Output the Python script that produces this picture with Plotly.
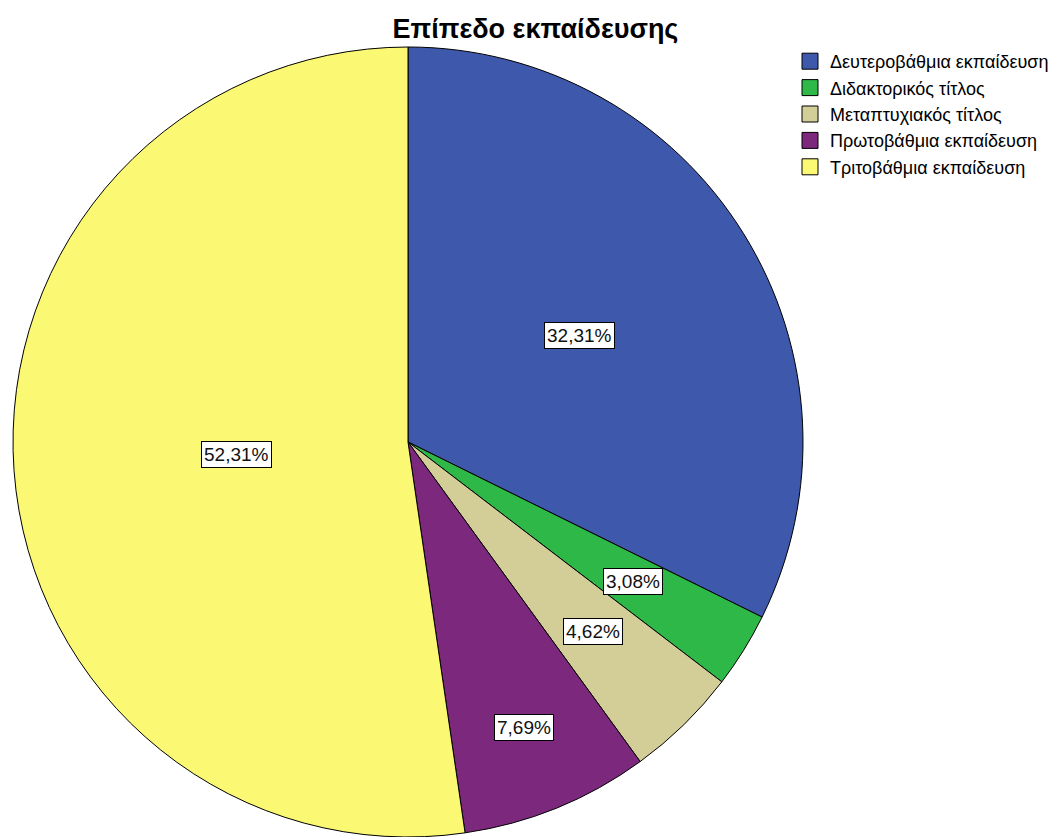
# PIE CHART - LEVEL OF EDUCATION
import numpy as np
import plotly.graph_objects as go

# DATA
categories = ['Δευτεροβάθμια εκπαίδευση', 'Διδακτορικός τίτλος', 'Μεταπτυχιακός τίτλος',
              'Πρωτοβάθμια εκπαίδευση', 'Τριτοβάθμια εκπαίδευση']
counts = [21, 2, 3, 5, 34]
colors = ['#3E58AC', '#2EB848', '#D3CE97', '#7C287D', '#FBF873']
label_radius = [0.51, 0.67, 0.67, 0.78, 0.435]   # where SPSS drops the % boxes, fraction of radius

# page has an 8px body margin, so the figure is a bit smaller than the window
W, H = 1055, 829
cx, cy, R = 400, 434, 395
FONT = 'Liberation Sans, Arial, sans-serif'

fig = go.Figure()
fig.add_trace(go.Pie(
    labels=categories,
    values=counts,
    sort=False,
    direction='clockwise',
    rotation=0,
    marker=dict(colors=colors, line=dict(color='black', width=1)),
    textinfo='none',
    hoverinfo='label+percent',
    showlegend=False,
    domain=dict(x=[(cx - R) / W, (cx + R) / W], y=[0, 2 * R / H]),
))

# legend entries with bigger square swatches
for name, col in zip(categories, colors):
    fig.add_trace(go.Scatter(
        x=[None], y=[None], mode='markers', name=name,
        marker=dict(symbol='square', size=16, color=col, line=dict(color='black', width=1)),
    ))

# percentage labels in white boxes
total = sum(counts)
start = 0.0
for v, rf in zip(counts, label_radius):
    pct = v / total * 100
    mid = (start + v / 2) / total * 2 * np.pi
    start += v
    lx = cx + rf * R * np.sin(mid)
    ly = cy - rf * R * np.cos(mid)
    fig.add_annotation(
        x=lx / W, y=1 - ly / H, xref='paper', yref='paper',
        xanchor='center', yanchor='middle',
        text=f'{pct:.2f}%'.replace('.', ','), showarrow=False,
        font=dict(family=FONT, size=19, color='#111'),
        bgcolor='white', bordercolor='black', borderwidth=1, borderpad=2,
    )

fig.update_xaxes(visible=False)
fig.update_yaxes(visible=False)
fig.update_layout(
    width=W, height=H,
    margin=dict(l=0, r=0, t=0, b=0),
    paper_bgcolor='white',
    plot_bgcolor='white',
    title=dict(text='<b>Επίπεδο εκπαίδευσης</b>', x=0.5, xanchor='center', y=1 - 21 / H, yanchor='middle',
               font=dict(family=FONT, size=27, color='black')),
    legend=dict(x=782 / W, y=1 - 35 / H, xanchor='left', yanchor='top',
                font=dict(family=FONT, size=18, color='black'),
                tracegroupgap=0, itemwidth=30, traceorder='normal', itemsizing='trace'),
    showlegend=True,
)

fig.write_html('out.html')
